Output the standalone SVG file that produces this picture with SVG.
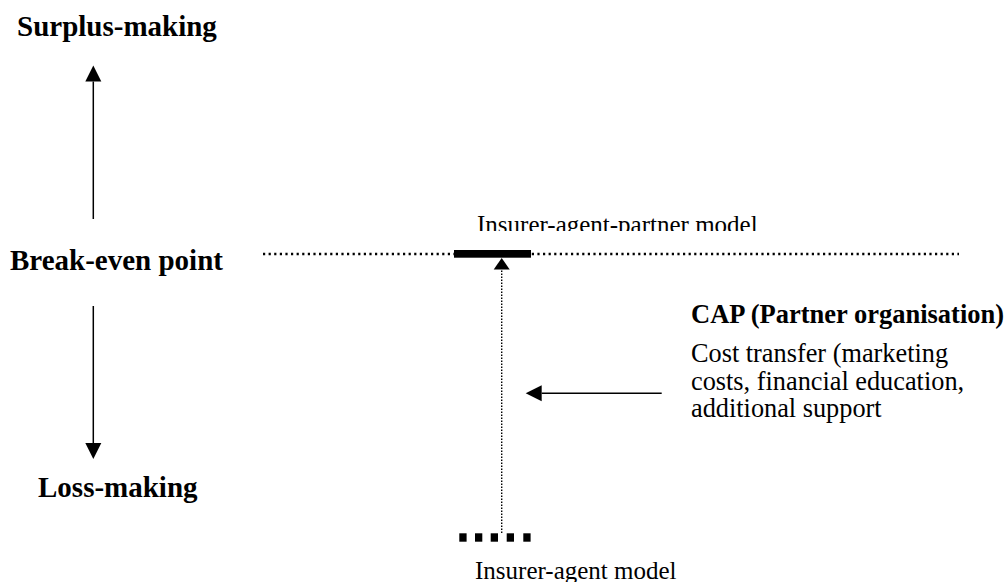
<svg xmlns="http://www.w3.org/2000/svg" width="1007" height="582" viewBox="0 0 1007 582">
<style>
.lbl{font-family:"Liberation Serif","Times New Roman",serif;fill:#000}
.b{font-weight:bold;font-size:29px}
.cap{font-weight:bold;font-size:26.5px}
.r{font-size:26.3px}
.m{font-size:25px}
.ln{stroke:#000;stroke-width:1.5;fill:none}
</style>
<defs>
<marker id="ah" markerUnits="userSpaceOnUse" markerWidth="17" markerHeight="17" refX="0" refY="8" orient="auto" overflow="visible">
<path d="M0,0 L16,8 L0,16 z" fill="#000"/>
</marker>
<marker id="ahs" markerUnits="userSpaceOnUse" markerWidth="13" markerHeight="17" refX="0" refY="8" orient="auto" overflow="visible">
<path d="M0,0 L11.5,8 L0,16 z" fill="#000"/>
</marker>
<clipPath id="clipTop"><rect x="0" y="0" width="1007" height="231"/></clipPath>
</defs>
<rect width="1007" height="582" fill="#fff"/>
<g id="connectors">
<line class="ln" x1="93.3" y1="219" x2="93.3" y2="81.5" marker-end="url(#ah)"/>
<line class="ln" x1="93.3" y1="306" x2="93.3" y2="443" marker-end="url(#ah)"/>
<line class="ln" x1="661.7" y1="393.3" x2="541.7" y2="393.3" marker-end="url(#ah)"/>
<line x1="501.7" y1="533" x2="501.7" y2="269.5" stroke="#000" stroke-width="1.4" stroke-dasharray="1.4 1.6" marker-end="url(#ahs)"/>
<line x1="263" y1="254" x2="959" y2="254" stroke="#000" stroke-width="2.4" stroke-dasharray="2.2 3.4"/>
</g>
<g id="surplus"><text class="lbl b" x="17" y="36">Surplus-making</text></g>
<g id="breakeven"><text class="lbl b" x="10" y="270">Break-even point</text></g>
<g id="loss"><text class="lbl b" x="38" y="497">Loss-making</text></g>
<g id="partner-model">
<rect x="454" y="250" width="77" height="7.7" fill="#000"/>
<text class="lbl m" x="477" y="233" clip-path="url(#clipTop)">Insurer-agent-partner model</text>
</g>
<g id="agent-model">
<rect x="459.3" y="533.3" width="7.3" height="8.4" fill="#000"/>
<rect x="475" y="533.3" width="7.3" height="8.4" fill="#000"/>
<rect x="490.7" y="533.3" width="7.3" height="8.4" fill="#000"/>
<rect x="506.7" y="533.3" width="7.3" height="8.4" fill="#000"/>
<rect x="523.3" y="533.3" width="7.3" height="8.4" fill="#000"/>
<text class="lbl m" x="475" y="579">Insurer-agent model</text>
</g>
<g id="cap">
<text class="lbl cap" x="691" y="323">CAP (Partner organisation)</text>
<text class="lbl r" x="691" y="362">Cost transfer (marketing</text>
<text class="lbl r" x="691" y="390">costs, financial education,</text>
<text class="lbl r" x="691" y="417">additional support</text>
</g>
</svg>
